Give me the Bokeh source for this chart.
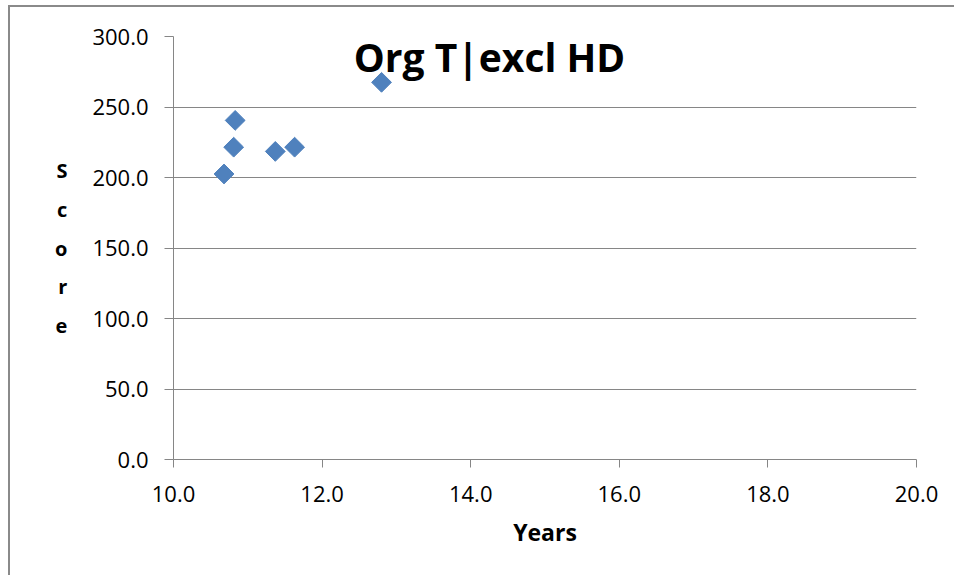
from bokeh.plotting import figure
from bokeh.models import Range1d, Label, FixedTicker
from bokeh.embed import file_html
from bokeh.resources import INLINE

# Data
years = [10.68, 10.81, 10.83, 11.37, 11.63, 12.80]
scores = [202.5, 221.5, 240.5, 218.5, 221.5, 267.5]
x_ticks = [10, 12, 14, 16, 18, 20]
y_ticks = [0, 50, 100, 150, 200, 250, 300]
title_text = "Org T|excl HD"
x_label = "Years"
y_label = "Score"

FONT = "Open Sans"
GRID = "#868686"

p = figure(width=946, height=570, output_backend="svg", toolbar_location=None,
           x_range=Range1d(10, 20), y_range=Range1d(0, 300),
           min_border_left=163, min_border_top=29, min_border_right=40, min_border_bottom=118)
p.styles = {"margin-left": "8px", "margin-top": "5px",
            "border-left": "2px solid #8a8a8a", "border-top": "2px solid #8a8a8a"}
p.outline_line_color = None
p.background_fill_color = "white"
p.border_fill_color = "white"

p.scatter(years, scores, marker="square", angle=0.785398, size=14,
          fill_color="#4F81BD", line_color="#4F81BD", line_width=1)

for ax in (p.xaxis[0], p.yaxis[0]):
    ax.axis_line_color = GRID
    ax.major_tick_line_color = GRID
    ax.minor_tick_line_color = None
    ax.major_tick_in = 0
    ax.major_label_text_font = FONT
    ax.major_label_text_font_size = "22px"
    ax.major_label_text_color = "black"
    ax.axis_label_text_font = FONT
    ax.axis_label_text_font_style = "bold"
    ax.axis_label_text_color = "black"

p.xaxis.ticker = FixedTicker(ticks=x_ticks)
p.yaxis.ticker = FixedTicker(ticks=y_ticks)
p.xaxis.major_label_overrides = {t: f"{t:.1f}" for t in x_ticks}
p.yaxis.major_label_overrides = {t: f"{t:.1f}" for t in y_ticks}
p.xaxis.major_tick_out = 8
p.yaxis.major_tick_out = 9
p.xaxis.major_label_standoff = 18
p.yaxis.major_label_standoff = 16

p.xaxis.axis_label = x_label
p.xaxis.axis_label_text_font_size = "23px"
p.xaxis.axis_label_standoff = 11

p.yaxis.axis_label = "\n".join(y_label)
p.yaxis.axis_label_text_font_size = "20px"
p.yaxis.axis_label_orientation = "horizontal"
p.yaxis.axis_label_text_line_height = 1.43
p.yaxis.axis_label_standoff = 22

p.xgrid.visible = False
p.ygrid.grid_line_color = GRID
p.ygrid.ticker = FixedTicker(ticks=y_ticks)

title = Label(x=316, y=403, x_units="screen", y_units="screen", text=title_text,
              text_font=FONT, text_font_style="bold", text_font_size="39px",
              text_align="center", text_baseline="alphabetic", text_color="black")
p.add_layout(title)

open("out.html", "w").write(file_html(p, INLINE))
